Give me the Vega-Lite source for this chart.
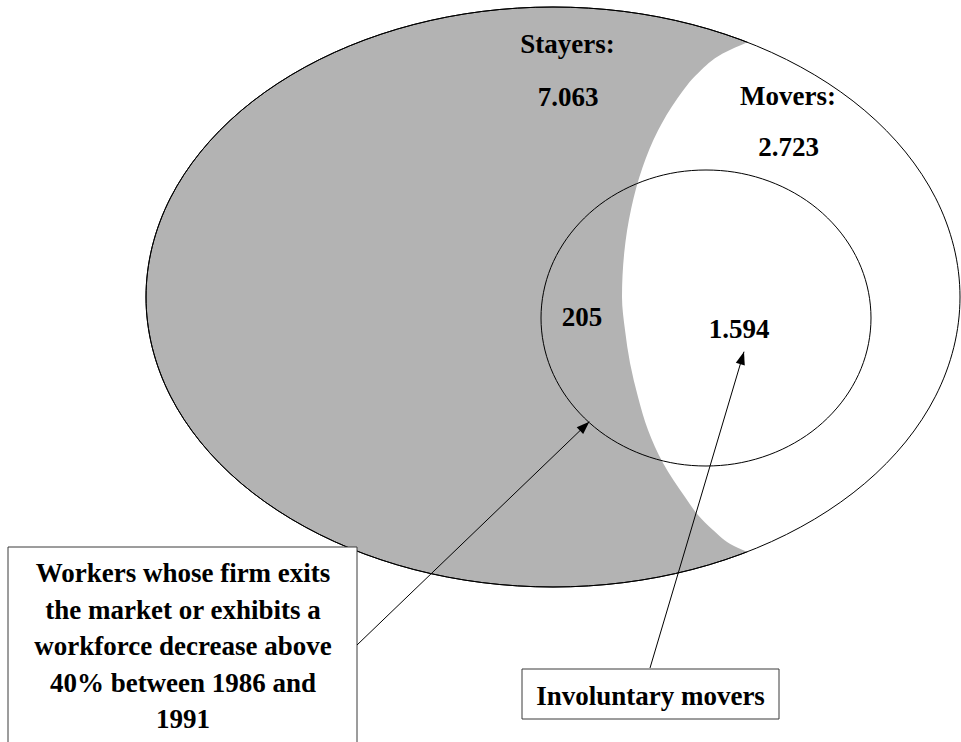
{
  "$schema": "https://vega.github.io/schema/vega-lite/v6.json",
  "width": 961,
  "height": 742,
  "autosize": {"type": "none"},
  "padding": 0,
  "background": "white",
  "config": {"view": {"stroke": null}, "axis": {"disable": true}},
  "datasets": {
    "ellipse": [
      {"i":0,"x":960,"y":297},{"i":1,"x":953.8,"y":347.3},{"i":2,"x":935.5,"y":396.2},{"i":3,"x":905.5,"y":442},
      {"i":4,"x":864.8,"y":483.4},{"i":5,"x":814.6,"y":519.1},{"i":6,"x":756.5,"y":548.1},{"i":7,"x":692.2,"y":569.5},
      {"i":8,"x":623.7,"y":582.6},{"i":9,"x":553,"y":587},{"i":10,"x":482.3,"y":582.6},{"i":11,"x":413.8,"y":569.5},
      {"i":12,"x":349.5,"y":548.1},{"i":13,"x":291.4,"y":519.1},{"i":14,"x":241.2,"y":483.4},{"i":15,"x":200.5,"y":442},
      {"i":16,"x":170.5,"y":396.2},{"i":17,"x":152.2,"y":347.3},{"i":18,"x":146,"y":297},{"i":19,"x":152.2,"y":246.7},
      {"i":20,"x":170.5,"y":197.8},{"i":21,"x":200.5,"y":152},{"i":22,"x":241.2,"y":110.6},{"i":23,"x":291.4,"y":74.9},
      {"i":24,"x":349.5,"y":45.9},{"i":25,"x":413.8,"y":24.5},{"i":26,"x":482.3,"y":11.4},{"i":27,"x":553,"y":7},
      {"i":28,"x":623.7,"y":11.4},{"i":29,"x":692.2,"y":24.5},{"i":30,"x":756.5,"y":45.9},{"i":31,"x":814.6,"y":74.9},
      {"i":32,"x":864.8,"y":110.6},{"i":33,"x":905.5,"y":152},{"i":34,"x":935.5,"y":197.8},{"i":35,"x":953.8,"y":246.7}
    ],
    "circle": [
      {"i":0,"x":871,"y":318},{"i":1,"x":868.5,"y":343.7},{"i":2,"x":861.1,"y":368.6},{"i":3,"x":848.9,"y":392},
      {"i":4,"x":832.4,"y":413.1},{"i":5,"x":812.1,"y":431.4},{"i":6,"x":788.5,"y":446.2},{"i":7,"x":762.4,"y":457.1},
      {"i":8,"x":734.7,"y":463.8},{"i":9,"x":706,"y":466},{"i":10,"x":677.3,"y":463.8},{"i":11,"x":649.6,"y":457.1},
      {"i":12,"x":623.5,"y":446.2},{"i":13,"x":599.9,"y":431.4},{"i":14,"x":579.6,"y":413.1},{"i":15,"x":563.1,"y":392},
      {"i":16,"x":550.9,"y":368.6},{"i":17,"x":543.5,"y":343.7},{"i":18,"x":541,"y":318},{"i":19,"x":543.5,"y":292.3},
      {"i":20,"x":550.9,"y":267.4},{"i":21,"x":563.1,"y":244},{"i":22,"x":579.6,"y":222.9},{"i":23,"x":599.9,"y":204.6},
      {"i":24,"x":623.5,"y":189.8},{"i":25,"x":649.6,"y":178.9},{"i":26,"x":677.3,"y":172.2},{"i":27,"x":706,"y":170},
      {"i":28,"x":734.7,"y":172.2},{"i":29,"x":762.4,"y":178.9},{"i":30,"x":788.5,"y":189.8},{"i":31,"x":812.1,"y":204.6},
      {"i":32,"x":832.4,"y":222.9},{"i":33,"x":848.9,"y":244},{"i":34,"x":861.1,"y":267.4},{"i":35,"x":868.5,"y":292.3}
    ],
    "movers": [
      {"x":748,"y":42},{"x":722.7,"y":53.6},{"x":698.5,"y":72.7},{"x":677,"y":99},{"x":658,"y":130.5},
      {"x":642.5,"y":167.5},{"x":631.2,"y":208.4},{"x":624.3,"y":252},{"x":622,"y":297},{"x":625,"y":330},
      {"x":630,"y":363},{"x":638,"y":397},{"x":648,"y":430},{"x":663,"y":463},{"x":685,"y":497},
      {"x":698,"y":515},{"x":713,"y":530},{"x":734,"y":546},{"x":750,"y":553}
    ],
    "arrows": [
      {"x":357,"y":645,"x2":589.3,"y2":421.7},
      {"x":650,"y":668,"x2":744,"y2":351.7}
    ],
    "boxes": [
      {"x":8,"x2":357,"y":547,"y2":746},
      {"x":522,"x2":779,"y":669,"y2":719}
    ],
    "labels": [
      {"text":"Stayers:","x":567.5,"y":53},
      {"text":"7.063","x":568,"y":106},
      {"text":"Movers:","x":788,"y":105},
      {"text":"2.723","x":788.5,"y":156},
      {"text":"205","x":582,"y":326},
      {"text":"1.594","x":739,"y":338},
      {"text":"Workers whose firm exits","x":183,"y":582},
      {"text":"the market or exhibits a","x":183,"y":619},
      {"text":"workforce decrease above","x":183,"y":655},
      {"text":"40% between 1986 and","x":183,"y":692},
      {"text":"1991","x":183,"y":728},
      {"text":"Involuntary movers","x":650.5,"y":705}
    ]
  },
  "encoding": {
    "x": {"field": "x", "type": "quantitative", "scale": {"domain": [0, 961], "nice": false, "zero": false}, "axis": null},
    "y": {"field": "y", "type": "quantitative", "scale": {"domain": [0, 742], "nice": false, "zero": false, "reverse": true}, "axis": null}
  },
  "layer": [
    {
      "data": {"name": "ellipse"},
      "mark": {"type": "line", "interpolate": "cardinal-closed", "fill": "#b3b3b3", "stroke": "black", "strokeWidth": 1},
      "encoding": {"order": {"field": "i", "type": "quantitative"}}
    },
    {
      "data": {"name": "movers"},
      "mark": {"type": "area", "orient": "horizontal", "interpolate": "monotone", "fill": "white", "opacity": 1},
      "encoding": {"x2": {"datum": 961}}
    },
    {
      "data": {"name": "ellipse"},
      "mark": {"type": "line", "interpolate": "cardinal-closed", "stroke": "black", "strokeWidth": 1},
      "encoding": {"order": {"field": "i", "type": "quantitative"}}
    },
    {
      "data": {"name": "circle"},
      "mark": {"type": "line", "interpolate": "cardinal-closed", "stroke": "black", "strokeWidth": 1},
      "encoding": {"order": {"field": "i", "type": "quantitative"}}
    },
    {
      "data": {"name": "boxes"},
      "mark": {"type": "rect", "fill": "white", "stroke": "#3a3a3a", "strokeWidth": 1},
      "encoding": {"x2": {"field": "x2"}, "y2": {"field": "y2"}}
    },
    {
      "data": {"name": "arrows"},
      "mark": {"type": "rule", "color": "black", "strokeWidth": 1},
      "encoding": {"x2": {"field": "x2"}, "y2": {"field": "y2"}}
    },
    {
      "data": {"values": [{"x": 589.3, "y": 421.7}]},
      "mark": {"type": "point", "shape": "M0,0L0.36,1L-0.36,1Z", "size": 676, "angle": 46.1, "filled": true, "color": "black", "opacity": 1, "strokeWidth": 0}
    },
    {
      "data": {"values": [{"x": 744, "y": 351.7}]},
      "mark": {"type": "point", "shape": "M0,0L0.36,1L-0.36,1Z", "size": 676, "angle": 16.6, "filled": true, "color": "black", "opacity": 1, "strokeWidth": 0}
    },
    {
      "data": {"name": "labels"},
      "mark": {"type": "text", "font": "Liberation Serif", "fontWeight": "bold", "fontSize": 27, "align": "center", "baseline": "alphabetic", "color": "black"},
      "encoding": {"text": {"field": "text", "type": "nominal"}}
    }
  ]
}
